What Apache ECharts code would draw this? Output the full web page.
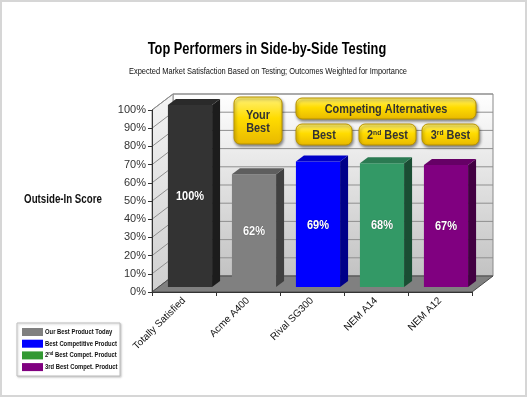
<!DOCTYPE html>
<html><head><meta charset="utf-8">
<script src="https://cdn.jsdelivr.net/npm/echarts@6/dist/echarts.min.js"></script>
<style>html,body{margin:0;padding:0;background:#fff}#c{width:529px;height:398px}</style>
</head><body><div id="c"></div>
<script>
const categories = ['Totally Satisfied', 'Acme A400', 'Rival SG300', 'NEM A14', 'NEM A12'];
const scores = [100, 62, 69, 68, 67];
const yTicks = [0, 10, 20, 30, 40, 50, 60, 70, 80, 90, 100];
const legendNames = ['Our Best Product Today', 'Best Competitive Product', '2{sup|nd} Best Compet. Product', '3rd Best Compet. Product'];
const titleText = 'Top Performers in Side-by-Side Testing';
const subtitleText = 'Expected Market Satisfaction Based on Testing; Outcomes Weighted for Importance';
const yAxisName = 'Outside-In Score';
const calloutTexts = ['Your\nBest', 'Competing Alternatives', 'Best', '2{sup|nd} Best', '3{sup|rd} Best'];

// styles
const faceColors = ['#333333', '#808080', '#0000ff', '#339966', '#800080'];
const topColors = ['#2a2a2a', '#5e5e5e', '#0000c8', '#2b7a52', '#660066'];
const sideColors = ['#1c1c1c', '#404040', '#000088', '#1a4d33', '#420042'];
const legendColors = ['#808080', '#0000ff', '#339933', '#800080'];
const WDX = 21, WDY = -16;           // wall depth
const BOX = 6, BOY = -5;             // bar offset from front plane
const BDX = 8, BDY = -6;             // bar depth

function renderWalls(params, api) {
  const bw = api.size([1, 0])[0];
  const first = api.coord([0, 0]);
  const last = api.coord([categories.length - 1, 0]);
  const x0 = first[0] - bw / 2, x1 = last[0] + bw / 2, y0 = first[1];
  const yTop = api.coord([0, yTicks[yTicks.length - 1]])[1];
  const ch = [];
  ch.push({type: 'rect', shape: {x: x0 + WDX, y: yTop + WDY, width: x1 - x0, height: y0 - yTop},
    style: {fill: {type: 'linear', x: 0, y: 0, x2: 0, y2: 1, colorStops: [{offset: 0, color: '#ffffff'}, {offset: 1, color: '#c2c2c2'}]}, stroke: '#8a8a8a', lineWidth: 1}});
  ch.push({type: 'polygon', shape: {points: [[x0, y0], [x0, yTop], [x0 + WDX, yTop + WDY], [x0 + WDX, y0 + WDY]]},
    style: {fill: {type: 'linear', x: 0, y: 0, x2: 0, y2: 1, colorStops: [{offset: 0, color: '#f4f4f4'}, {offset: 1, color: '#cfcfcf'}]}, stroke: '#8a8a8a', lineWidth: 1}});
  yTicks.forEach(function (t) {
    const y = api.coord([0, t])[1];
    ch.push({type: 'line', shape: {x1: x0 + WDX, y1: y + WDY, x2: x1 + WDX, y2: y + WDY}, style: {stroke: '#8f8f8f', lineWidth: 1}});
    ch.push({type: 'line', shape: {x1: x0, y1: y, x2: x0 + WDX, y2: y + WDY}, style: {stroke: '#8f8f8f', lineWidth: 1}});
  });
  ch.push({type: 'polygon', shape: {points: [[x0, y0], [x1, y0], [x1 + WDX, y0 + WDY], [x0 + WDX, y0 + WDY]]},
    style: {fill: '#808080', stroke: '#4a4a4a', lineWidth: 1}});
  return {type: 'group', children: ch};
}

function renderBar(params, api) {
  const i = api.value(0), v = api.value(1);
  const bw = api.size([1, 0])[0];
  const b = api.coord([i, 0]), t = api.coord([i, v]);
  const w = bw * 0.69;
  const cx = b[0] + BOX;
  const xl = cx - w / 2, xr = cx + w / 2, yb = b[1] + BOY, yt = t[1] + BOY;
  return {type: 'group', children: [
    {type: 'rect', shape: {x: xl, y: yt, width: w, height: yb - yt}, style: {fill: faceColors[i]}},
    {type: 'polygon', shape: {points: [[xr, yt], [xr + BDX, yt + BDY], [xr + BDX, yb + BDY], [xr, yb]]}, style: {fill: sideColors[i]}},
    {type: 'polygon', shape: {points: [[xl, yt], [xr, yt], [xr + BDX, yt + BDY], [xl + BDX, yt + BDY]]}, style: {fill: topColors[i]}},
    {type: 'text', x: cx, y: (yt + yb) / 2 + 1, scaleX: 0.92,
      style: {text: v + '%', x: 0, y: 0, align: 'center', verticalAlign: 'middle',
      fill: '#ffffff', font: 'bold 12px Arial, sans-serif', textShadowColor: 'rgba(0,0,0,0.5)', textShadowBlur: 1}}
  ]};
}

const graphics = [];
// title, subtitle, axis name (condensed like the original narrow face)
graphics.push({type: 'text', x: 267, y: 50, scaleX: 0.8, z: 25,
  style: {text: titleText, align: 'center', verticalAlign: 'middle', fill: '#000', font: 'bold 16px Arial, sans-serif'}});
graphics.push({type: 'text', x: 268, y: 72, scaleX: 0.83, z: 25,
  style: {text: subtitleText, align: 'center', verticalAlign: 'middle', fill: '#111', font: '9px Arial, sans-serif'}});
graphics.push({type: 'text', x: 63, y: 200, scaleX: 0.81, z: 25,
  style: {text: yAxisName, align: 'center', verticalAlign: 'middle', fill: '#111', font: 'bold 12px Arial, sans-serif'}});

// callout buttons
const yellowFill = {type: 'linear', x: 0, y: 0, x2: 0, y2: 1, colorStops: [
  {offset: 0, color: '#fff27a'}, {offset: 0.45, color: '#ffdc00'}, {offset: 1, color: '#e8b800'}]};
const calloutBoxes = [[234, 97, 48, 47], [296, 98, 180, 21], [296, 124, 56, 21], [359, 124, 57, 21], [422, 124, 57, 21]];
calloutBoxes.forEach(function (bx, k) {
  graphics.push({type: 'rect', shape: {x: bx[0], y: bx[1], width: bx[2], height: bx[3], r: 6},
    style: {fill: yellowFill, stroke: '#b89200', lineWidth: 1, shadowBlur: 3, shadowColor: 'rgba(0,0,0,0.45)', shadowOffsetX: 1, shadowOffsetY: 2}, z: 20});
  graphics.push({type: 'text', x: bx[0] + bx[2] / 2, y: bx[1] + bx[3] / 2 + 1, scaleX: 0.84, z: 21,
    style: {text: calloutTexts[k], align: 'center', verticalAlign: 'middle', fill: '#333333',
      font: 'bold 13px Arial, sans-serif', lineHeight: 13,
      rich: {sup: {fontSize: 8, fontWeight: 'bold', fill: '#333333', verticalAlign: 'top', padding: [0, 0, 6, 0]}}}});
});

// legend box
const LG = {x: 17, y: 323, w: 103, h: 53, row0: 332, step: 11.7};
graphics.push({type: 'rect', shape: {x: LG.x, y: LG.y, width: LG.w, height: LG.h},
  style: {fill: '#fff', stroke: '#bdbdbd', lineWidth: 1, shadowBlur: 2, shadowColor: 'rgba(0,0,0,0.2)', shadowOffsetX: 1, shadowOffsetY: 1}, z: 20});
legendNames.forEach(function (n, k) {
  const cy = LG.row0 + k * LG.step;
  graphics.push({type: 'rect', shape: {x: 22, y: cy - 4, width: 21, height: 8}, style: {fill: legendColors[k]}, z: 21});
  graphics.push({type: 'text', x: 45, y: cy, scaleX: 0.84, z: 21,
    style: {text: n, align: 'left', verticalAlign: 'middle', fill: '#111', font: 'bold 7px Arial, sans-serif',
      rich: {sup: {fontSize: 5, fontWeight: 'bold', fill: '#111', verticalAlign: 'top', padding: [0, 0, 3, 0]}}}});
});
// outer frame
graphics.push({type: 'rect', shape: {x: 1, y: 1, width: 525, height: 395}, style: {fill: 'none', stroke: '#d6d6d6', lineWidth: 2}, z: 30});

const chart = echarts.init(document.getElementById('c'), null, {renderer: 'canvas'});
chart.setOption({
  animation: false,
  backgroundColor: '#ffffff',
  grid: {left: 152, right: 57, top: 110, bottom: 106, containLabel: false},
  xAxis: {type: 'category', data: categories, z: 10,
    axisLine: {lineStyle: {color: '#333', width: 1}},
    axisTick: {show: true, length: 4, lineStyle: {color: '#333'}},
    axisLabel: {rotate: 45, margin: 7, fontSize: 10, color: '#111', fontFamily: 'Arial, sans-serif'}},
  yAxis: {type: 'value', min: 0, max: 100, interval: 10, z: 10,
    axisLine: {show: true, lineStyle: {color: '#333', width: 1}},
    axisTick: {show: true, length: 4, lineStyle: {color: '#333'}},
    axisLabel: {formatter: '{value}%', margin: 6, fontSize: 11, color: '#333', fontFamily: 'Arial, sans-serif'},
    splitLine: {show: false}},
  graphic: graphics,
  series: [
    {type: 'custom', name: 'walls', z: 1, silent: true, renderItem: renderWalls, data: [[0, 0]]},
    {type: 'custom', name: 'scores', z: 3, renderItem: renderBar, data: scores.map(function (v, i) { return [i, v]; })}
  ]
});
</script></body></html>
